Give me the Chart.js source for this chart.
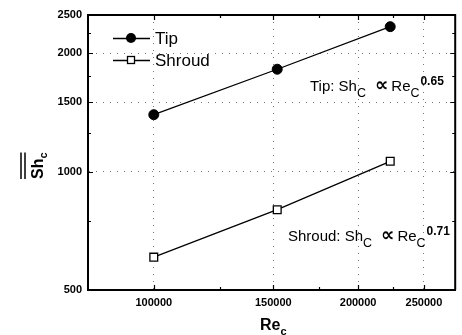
<!DOCTYPE html>
<html>
<head>
<meta charset="utf-8">
<script src="https://cdn.jsdelivr.net/npm/chart.js@4/dist/chart.umd.min.js"></script>
<style>
  html, body { margin: 0; padding: 0; background: #fff; }
  #wrap { width: 462px; height: 335px; position: relative; }
</style>
</head>
<body>
<div id="wrap"><canvas id="chart" width="462" height="335"></canvas></div>
<script>
// values
const reValues = [100000, 152000, 223000];
const tipSh = [1395, 1820, 2335];
const shroudSh = [606, 800, 1062];

const xTicks = [100000, 150000, 200000, 250000];
const yTicks = [500, 1000, 1500, 2000, 2500];
const xMinor = [125000, 175000, 225000];
const yMinor = [750, 1250, 1750, 2250];

const FONT = '"Liberation Sans", Arial, sans-serif';

// draw text with subscript / superscript parts: [text, kind]
function richText(ctx, x, y, parts, size) {
  parts.forEach(p => {
    if (p[1] === 'gap') { x += p[0]; return; }
    let s = size, dy = 0, f = FONT, w = '';
    if (p[1] === 'sub') { s = size * 0.83; dy = 6; }
    if (p[1] === 'sup') { s = size * 0.8; dy = -5.5; w = 'bold '; }
    if (p[1] === 'sym') { f = '"DejaVu Sans", sans-serif'; s = size * 1.25; w = 'bold '; }
    ctx.font = w + s + 'px ' + f;
    ctx.fillText(p[0], x, y + dy);
    x += ctx.measureText(p[0]).width;
  });
}

function relation(name, exp) {
  return [[name + ': Sh'], ['C', 'sub'], [9, 'gap'], ['\u221D', 'sym'], [3, 'gap'],
          ['Re'], ['C', 'sub'], [1, 'gap'], [exp, 'sup']];
}

const extras = {
  id: 'extras',
  afterDraw(chart) {
    const ctx = chart.ctx;
    const a = chart.chartArea;
    const xs = chart.scales.x, ys = chart.scales.y;
    ctx.save();
    ctx.strokeStyle = '#000';
    ctx.fillStyle = '#000';

    // top & right frame
    ctx.lineWidth = 2;
    ctx.beginPath();
    ctx.moveTo(a.left, a.top); ctx.lineTo(a.right, a.top); ctx.lineTo(a.right, a.bottom);
    ctx.stroke();

    // inward ticks
    ctx.lineWidth = 1.2;
    ctx.beginPath();
    const tx = (v, len) => {
      const p = Math.round(xs.getPixelForValue(v)) + 0.5;
      ctx.moveTo(p, a.bottom); ctx.lineTo(p, a.bottom - len);
      ctx.moveTo(p, a.top); ctx.lineTo(p, a.top + len);
    };
    const ty = (v, len) => {
      const p = Math.round(ys.getPixelForValue(v)) + 0.5;
      ctx.moveTo(a.left, p); ctx.lineTo(a.left + len, p);
      ctx.moveTo(a.right, p); ctx.lineTo(a.right - len, p);
    };
    xTicks.forEach(v => tx(v, 5));
    xMinor.forEach(v => tx(v, 3));
    yTicks.forEach(v => ty(v, 5));
    yMinor.forEach(v => ty(v, 3));
    ctx.stroke();

    // legend
    const rows = [['Tip', 'circle', 38], ['Shroud', 'rect', 60]];
    rows.forEach(r => {
      const y = r[2];
      ctx.lineWidth = 1.3;
      ctx.beginPath();
      ctx.moveTo(113, y + 0.5); ctx.lineTo(150, y + 0.5);
      ctx.stroke();
      if (r[1] === 'circle') {
        ctx.beginPath(); ctx.arc(131, y, 5, 0, Math.PI * 2); ctx.fill();
      } else {
        ctx.fillStyle = '#fff';
        ctx.fillRect(127, y - 4, 8, 8);
        ctx.strokeRect(127.5, y - 3.5, 7, 7);
        ctx.fillStyle = '#000';
      }
      ctx.font = '17px ' + FONT;
      ctx.textBaseline = 'alphabetic';
      ctx.fillText(r[0], 155, y + 6);
    });

    // annotations
    richText(ctx, 310, 90.5, relation('Tip', '0.65'), 15);
    richText(ctx, 288, 240.5, relation('Shroud', '0.71'), 15);

    // x title
    ctx.font = 'bold 16px ' + FONT;
    ctx.fillText('Re', 260, 330);
    let w = ctx.measureText('Re').width;
    ctx.font = 'bold 11px ' + FONT;
    ctx.fillText('c', 260 + w, 335);

    // y title, rotated, with double overbar
    ctx.translate(43, 179);
    ctx.rotate(-Math.PI / 2);
    ctx.font = 'bold 16px ' + FONT;
    ctx.fillText('Sh', 0, 0);
    w = ctx.measureText('Sh').width;
    ctx.font = 'bold 11px ' + FONT;
    ctx.fillText('c', w, 4);
    const tw = w + ctx.measureText('c').width;
    ctx.lineWidth = 1.5;
    ctx.beginPath();
    ctx.moveTo(0, -18); ctx.lineTo(tw, -18);
    ctx.moveTo(0, -22); ctx.lineTo(tw, -22);
    ctx.stroke();
    ctx.restore();
  }
};

const toPoints = ys => reValues.map((x, i) => ({ x: x, y: ys[i] }));

new Chart(document.getElementById('chart'), {
  type: 'scatter',
  data: {
    datasets: [
      {
        label: 'Tip',
        data: toPoints(tipSh),
        showLine: true,
        borderColor: '#000',
        borderWidth: 1.3,
        pointStyle: 'circle',
        pointRadius: 5,
        pointBackgroundColor: '#000',
        pointBorderColor: '#000',
        pointBorderWidth: 1
      },
      {
        label: 'Shroud',
        data: toPoints(shroudSh),
        showLine: true,
        borderColor: '#000',
        borderWidth: 1.3,
        pointStyle: 'rect',
        pointRadius: 5.5,
        pointBackgroundColor: '#fff',
        pointBorderColor: '#000',
        pointBorderWidth: 1.3
      }
    ]
  },
  options: {
    responsive: false,
    animation: false,
    layout: { padding: { top: 15, right: 1, left: 0, bottom: 0 } },
    plugins: { legend: { display: false }, tooltip: { enabled: false } },
    scales: {
      x: {
        type: 'logarithmic',
        min: 80000,
        max: 278000,
        afterBuildTicks: s => { s.ticks = xTicks.map(v => ({ value: v })); },
        afterFit: s => { s.height = 45; },
        ticks: {
          callback: v => String(v),
          color: '#000',
          font: { family: FONT, size: 11, weight: 'bold' },
          padding: 6,
          maxRotation: 0,
          autoSkip: false
        },
        grid: { color: '#777', lineWidth: 1, drawTicks: false },
        border: { display: true, color: '#000', width: 2, dash: [1, 6] }
      },
      y: {
        type: 'logarithmic',
        min: 500,
        max: 2500,
        afterBuildTicks: s => { s.ticks = yTicks.map(v => ({ value: v })); },
        afterFit: s => { s.width = 88; },
        ticks: {
          callback: v => String(v),
          color: '#000',
          font: { family: FONT, size: 11, weight: 'bold' },
          padding: 6,
          autoSkip: false
        },
        grid: { color: '#777', lineWidth: 1, drawTicks: false },
        border: { display: true, color: '#000', width: 2, dash: [1, 6] }
      }
    }
  },
  plugins: [extras]
});
</script>
</body>
</html>
